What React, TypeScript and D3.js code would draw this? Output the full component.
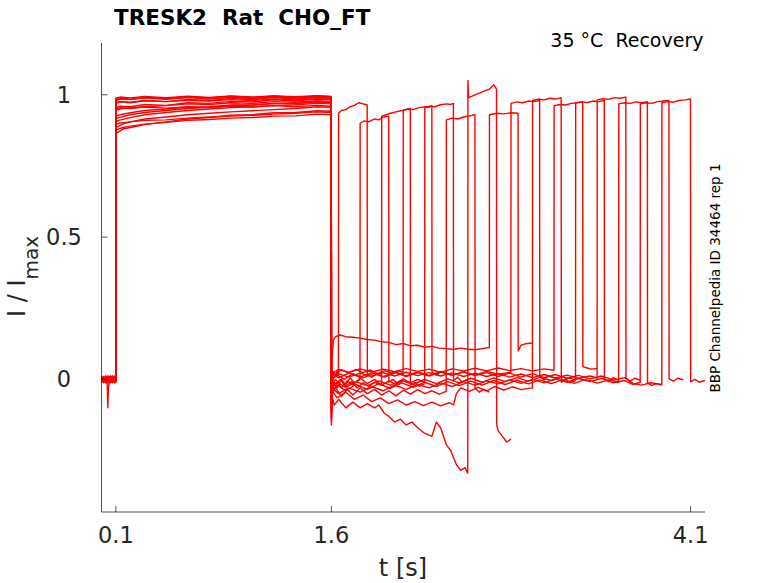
import * as d3 from 'd3';

type Pt = [number, number];

// sweeps of the recovery protocol: pulse 1 (0.1–1.6 s), gap, pulse 2, short tail
const sweep01: Pt[] = [
  [0, 0.006], [0.015, -0.009], [0.03, 0.011], [0.045, -0.006], [0.06, 0.009], [0.075, -0.011], [0.09, 0.004], [0.099, -0.004],
  [0.1, 0.985], [0.13, 0.99], [0.2, 0.983], [0.3, 0.991], [0.45, 0.985], [0.6, 0.992], [0.75, 0.986], [0.9, 0.993], [1.05, 0.987], [1.2, 0.994], [1.35, 0.988], [1.5, 0.993], [1.599, 0.99],
  [1.6, -0.05], [1.61, 0.025], [1.625, 0.012], [1.64, 0.028], [1.649, 0.015],
  [1.65, 0.935], [1.67, 0.945], [1.7, 0.948], [1.73, 0.958], [1.76, 0.963], [1.79, 0.972], [1.82, 0.968], [1.849, 0.964],
  [1.85, 0.018], [1.88, 0.008], [1.91, 0.02], [1.95, 0.012],
];
const sweep02: Pt[] = [
  [0, -0.004], [0.015, 0.008], [0.03, -0.012], [0.045, 0.005], [0.06, -0.009], [0.075, 0.01], [0.09, -0.005], [0.099, 0.003],
  [0.1, 0.97], [0.13, 0.975], [0.2, 0.972], [0.3, 0.98], [0.45, 0.976], [0.6, 0.984], [0.75, 0.98], [0.9, 0.987], [1.05, 0.983], [1.2, 0.99], [1.35, 0.985], [1.5, 0.991], [1.599, 0.988],
  [1.6, -0.15], [1.605, -0.04], [1.62, -0.01], [1.64, -0.03], [1.67, 0.0], [1.7, -0.02], [1.73, 0.005], [1.76, -0.012], [1.799, 0.0],
  [1.8, 0.9], [1.83, 0.908], [1.86, 0.905], [1.9, 0.915], [1.93, 0.912], [1.96, 0.922], [1.999, 0.925],
  [2.0, -0.01], [2.03, 0.0], [2.06, -0.015], [2.1, -0.005],
];
const sweep03: Pt[] = [
  [0, 0.01], [0.015, -0.005], [0.03, 0.008], [0.04, -0.02], [0.044, -0.1], [0.048, -0.03], [0.06, 0.006], [0.075, -0.01], [0.09, 0.007], [0.099, -0.003],
  [0.1, 0.955], [0.13, 0.96], [0.2, 0.958], [0.3, 0.966], [0.45, 0.963], [0.6, 0.972], [0.75, 0.97], [0.9, 0.977], [1.05, 0.975], [1.2, 0.982], [1.35, 0.979], [1.5, 0.985], [1.599, 0.983],
  [1.6, -0.08], [1.605, 0.01], [1.63, -0.02], [1.66, 0.0], [1.7, -0.025], [1.74, -0.008], [1.78, -0.03], [1.82, -0.012], [1.86, -0.025], [1.9, -0.01], [1.949, -0.02],
  [1.95, 0.925], [1.98, 0.93], [2.01, 0.935], [2.05, 0.94], [2.09, 0.945], [2.12, 0.948], [2.149, 0.952],
  [2.15, -0.02], [2.18, -0.01], [2.21, -0.025], [2.25, -0.015],
];
const sweep04: Pt[] = [
  [0, -0.006], [0.015, 0.009], [0.03, -0.01], [0.045, 0.006], [0.06, -0.008], [0.075, 0.011], [0.09, -0.004], [0.099, 0.005],
  [0.1, 0.98], [0.13, 0.986], [0.2, 0.984], [0.3, 0.99], [0.45, 0.986], [0.6, 0.993], [0.75, 0.989], [0.9, 0.995], [1.05, 0.99], [1.2, 0.996], [1.35, 0.991], [1.5, 0.996], [1.599, 0.993],
  [1.6, -0.06], [1.605, 0.03], [1.63, 0.02], [1.67, 0.034], [1.72, 0.022], [1.77, 0.035], [1.82, 0.024], [1.87, 0.033], [1.92, 0.02], [1.97, 0.031], [2.02, 0.022], [2.06, 0.03], [2.099, 0.025],
  [2.1, 0.945], [2.13, 0.95], [2.17, 0.948], [2.21, 0.955], [2.25, 0.958], [2.28, 0.956], [2.299, 0.962],
  [2.3, 0.025], [2.33, 0.015], [2.36, 0.028], [2.4, 0.02],
];
const sweep05: Pt[] = [
  [0, 0.003], [0.015, -0.01], [0.03, 0.007], [0.045, -0.004], [0.06, 0.012], [0.075, -0.007], [0.09, 0.005], [0.099, -0.009],
  [0.1, 0.945], [0.13, 0.95], [0.2, 0.955], [0.3, 0.958], [0.45, 0.962], [0.6, 0.968], [0.75, 0.966], [0.9, 0.972], [1.05, 0.97], [1.2, 0.976], [1.35, 0.974], [1.5, 0.979], [1.599, 0.977],
  [1.6, -0.1], [1.605, -0.02], [1.63, 0.0], [1.67, -0.03], [1.71, -0.005], [1.75, -0.02], [1.8, 0.005], [1.85, -0.015], [1.9, 0.0], [1.95, -0.02], [2.0, -0.005], [2.05, -0.018], [2.1, 0.002], [2.15, -0.012], [2.2, 0.0], [2.249, -0.01],
  [2.25, 0.955], [2.28, 0.96], [2.32, 0.958], [2.36, 0.965], [2.4, 0.968], [2.43, 0.966], [2.449, 0.97],
  [2.45, -0.005], [2.48, 0.008], [2.51, -0.01], [2.55, 0.0],
];
const sweep06: Pt[] = [
  [0, -0.008], [0.015, 0.006], [0.03, -0.003], [0.045, 0.01], [0.06, -0.011], [0.075, 0.004], [0.09, -0.007], [0.099, 0.008],
  [0.1, 0.925], [0.13, 0.93], [0.2, 0.937], [0.3, 0.945], [0.45, 0.95], [0.6, 0.957], [0.75, 0.958], [0.9, 0.964], [1.05, 0.965], [1.2, 0.97], [1.35, 0.969], [1.5, 0.975], [1.599, 0.973],
  [1.6, -0.14], [1.605, -0.05], [1.63, -0.03], [1.67, -0.06], [1.71, -0.035], [1.75, -0.055], [1.8, -0.03], [1.85, -0.05], [1.9, -0.035], [1.95, -0.055], [2.0, -0.04], [2.05, -0.058], [2.1, -0.038], [2.15, -0.052], [2.2, -0.036], [2.25, -0.05], [2.3, -0.04], [2.35, -0.052], [2.399, -0.042],
  [2.4, 0.912], [2.44, 0.918], [2.48, 0.915], [2.52, 0.922], [2.56, 0.926], [2.599, 0.93],
  [2.6, -0.03], [2.63, -0.045], [2.66, -0.035], [2.7, -0.045],
];
const sweep07: Pt[] = [
  [0, 0.002], [0.015, -0.008], [0.03, 0.01], [0.045, -0.012], [0.06, 0.005], [0.075, -0.006], [0.09, 0.009], [0.099, -0.011],
  [0.1, 0.905], [0.12, 0.91], [0.2, 0.92], [0.3, 0.93], [0.45, 0.938], [0.6, 0.945], [0.75, 0.95], [0.9, 0.955], [1.05, 0.958], [1.2, 0.962], [1.35, 0.965], [1.5, 0.97], [1.599, 0.968],
  [1.6, -0.16], [1.605, -0.06], [1.62, -0.09], [1.65, -0.07], [1.7, -0.1], [1.75, -0.08], [1.8, -0.1], [1.85, -0.085], [1.9, -0.1], [1.93, -0.09], [1.97, -0.12], [2.0, -0.13], [2.04, -0.15], [2.08, -0.14], [2.12, -0.16], [2.16, -0.15], [2.2, -0.17], [2.25, -0.19], [2.3, -0.2], [2.33, -0.15], [2.36, -0.17], [2.4, -0.23], [2.43, -0.25], [2.47, -0.3], [2.5, -0.32], [2.53, -0.31], [2.549, -0.33],
  [2.55, 1.05], [2.555, 0.99], [2.6, 1.0], [2.65, 1.01], [2.7, 1.02], [2.73, 1.035], [2.749, 1.02],
  [2.75, -0.16], [2.76, -0.18], [2.79, -0.2], [2.82, -0.22], [2.85, -0.21],
];
const sweep08: Pt[] = [
  [0, -0.011], [0.015, 0.003], [0.03, -0.007], [0.045, 0.009], [0.06, -0.002], [0.075, 0.012], [0.09, -0.008], [0.099, 0.001],
  [0.1, 0.885], [0.12, 0.89], [0.15, 0.898], [0.2, 0.905], [0.3, 0.915], [0.45, 0.922], [0.6, 0.93], [0.75, 0.935], [0.9, 0.94], [1.05, 0.944], [1.2, 0.948], [1.35, 0.952], [1.5, 0.958], [1.599, 0.956],
  [1.6, -0.02], [1.605, 0.08], [1.615, 0.14], [1.63, 0.15], [1.66, 0.156], [1.7, 0.15], [1.75, 0.148], [1.8, 0.145], [1.85, 0.14], [1.9, 0.138], [1.95, 0.132], [2.0, 0.13], [2.05, 0.122], [2.1, 0.126], [2.15, 0.118], [2.2, 0.12], [2.25, 0.113], [2.3, 0.116], [2.35, 0.11], [2.4, 0.108], [2.45, 0.105], [2.5, 0.11], [2.55, 0.106], [2.6, 0.104], [2.65, 0.108], [2.699, 0.112],
  [2.7, 0.93], [2.75, 0.935], [2.8, 0.933], [2.85, 0.937], [2.899, 0.935],
  [2.9, 0.1], [2.92, 0.12], [2.95, 0.125], [3.0, 0.128],
];
const sweep09: Pt[] = [
  [0, 0.009], [0.015, -0.006], [0.03, 0.012], [0.045, -0.009], [0.06, 0.003], [0.075, -0.012], [0.09, 0.008], [0.099, -0.002],
  [0.1, 0.865], [0.12, 0.87], [0.15, 0.88], [0.2, 0.885], [0.3, 0.895], [0.45, 0.905], [0.6, 0.915], [0.75, 0.92], [0.9, 0.928], [1.05, 0.93], [1.2, 0.937], [1.35, 0.938], [1.5, 0.944], [1.599, 0.942],
  [1.6, -0.09], [1.605, 0.0], [1.64, 0.015], [1.69, 0.0], [1.75, 0.02], [1.82, 0.005], [1.9, 0.022], [1.97, 0.008], [2.05, 0.025], [2.12, 0.01], [2.2, 0.024], [2.28, 0.012], [2.36, 0.026], [2.44, 0.014], [2.52, 0.027], [2.6, 0.015], [2.68, 0.028], [2.76, 0.018], [2.849, 0.025],
  [2.85, 0.97], [2.89, 0.975], [2.93, 0.972], [2.97, 0.978], [3.01, 0.976], [3.049, 0.98],
  [3.05, 0.01], [3.08, -0.002], [3.11, 0.012], [3.15, 0.005],
];
const sweep10: Pt[] = [
  [0, -0.002], [0.015, 0.011], [0.03, -0.008], [0.045, 0.004], [0.06, -0.012], [0.075, 0.007], [0.09, -0.003], [0.099, 0.01],
  [0.1, 0.895], [0.12, 0.9], [0.2, 0.905], [0.3, 0.91], [0.45, 0.912], [0.6, 0.918], [0.75, 0.922], [0.9, 0.925], [1.05, 0.928], [1.2, 0.932], [1.35, 0.935], [1.5, 0.94], [1.599, 0.938],
  [1.6, -0.12], [1.605, -0.04], [1.64, -0.065], [1.7, -0.045], [1.76, -0.07], [1.82, -0.055], [1.88, -0.078], [1.94, -0.065], [2.0, -0.085], [2.06, -0.072], [2.12, -0.09], [2.18, -0.078], [2.24, -0.092], [2.3, -0.08], [2.36, -0.093], [2.42, -0.082], [2.45, -0.09], [2.47, -0.05], [2.5, -0.03], [2.56, -0.042], [2.62, -0.028], [2.68, -0.04], [2.74, -0.025], [2.8, -0.038], [2.86, -0.026], [2.92, -0.036], [2.999, -0.03],
  [3.0, 0.98], [3.04, 0.985], [3.08, 0.982], [3.12, 0.988], [3.16, 0.985], [3.199, 0.99],
  [3.2, -0.01], [3.23, 0.002], [3.26, -0.012], [3.3, -0.004],
];
const sweep11: Pt[] = [
  [0, 0.007], [0.015, -0.011], [0.03, 0.004], [0.045, -0.007], [0.06, 0.01], [0.075, -0.004], [0.09, 0.012], [0.099, -0.006],
  [0.1, 0.95], [0.13, 0.955], [0.2, 0.952], [0.3, 0.957], [0.45, 0.953], [0.6, 0.958], [0.75, 0.955], [0.9, 0.96], [1.05, 0.957], [1.2, 0.962], [1.35, 0.958], [1.5, 0.963], [1.599, 0.96],
  [1.6, -0.04], [1.605, 0.02], [1.65, 0.035], [1.72, 0.025], [1.8, 0.037], [1.88, 0.026], [1.96, 0.036], [2.04, 0.027], [2.12, 0.038], [2.2, 0.028], [2.28, 0.036], [2.36, 0.025], [2.44, 0.037], [2.52, 0.03], [2.6, 0.039], [2.68, 0.03], [2.76, 0.04], [2.84, 0.031], [2.92, 0.038], [3.0, 0.03], [3.08, 0.037], [3.149, 0.032],
  [3.15, 0.962], [3.19, 0.966], [3.23, 0.964], [3.27, 0.97], [3.31, 0.972], [3.349, 0.975],
  [3.35, 0.045], [3.38, 0.04], [3.41, 0.036], [3.45, 0.038],
];
const sweep12: Pt[] = [
  [0, -0.01], [0.015, 0.004], [0.03, -0.006], [0.045, 0.011], [0.06, -0.004], [0.075, 0.009], [0.09, -0.011], [0.099, 0.002],
  [0.1, 0.915], [0.12, 0.92], [0.2, 0.93], [0.3, 0.938], [0.45, 0.945], [0.6, 0.952], [0.75, 0.956], [0.9, 0.962], [1.05, 0.964], [1.2, 0.969], [1.35, 0.97], [1.5, 0.975], [1.599, 0.973],
  [1.6, -0.11], [1.605, -0.03], [1.64, -0.01], [1.7, -0.028], [1.77, -0.008], [1.85, -0.022], [1.93, -0.005], [2.01, -0.02], [2.09, -0.003], [2.17, -0.018], [2.25, 0.0], [2.33, -0.015], [2.41, 0.002], [2.49, -0.012], [2.57, 0.004], [2.65, -0.01], [2.73, 0.005], [2.81, -0.008], [2.89, 0.006], [2.97, -0.006], [3.05, 0.007], [3.13, -0.004], [3.21, 0.008], [3.299, 0.0],
  [3.3, 0.972], [3.34, 0.975], [3.38, 0.973], [3.42, 0.978], [3.46, 0.976], [3.499, 0.98],
  [3.5, 0.002], [3.53, -0.008], [3.56, 0.006], [3.6, -0.004],
];
const sweep13: Pt[] = [
  [0, 0.012], [0.015, -0.002], [0.03, 0.009], [0.045, -0.011], [0.06, 0.006], [0.075, -0.005], [0.09, 0.01], [0.099, -0.008],
  [0.1, 0.982], [0.13, 0.986], [0.2, 0.984], [0.3, 0.989], [0.45, 0.985], [0.6, 0.99], [0.75, 0.986], [0.9, 0.991], [1.05, 0.987], [1.2, 0.992], [1.35, 0.988], [1.5, 0.992], [1.599, 0.99],
  [1.6, -0.07], [1.605, 0.01], [1.65, 0.02], [1.72, 0.008], [1.8, 0.022], [1.88, 0.01], [1.96, 0.024], [2.04, 0.012], [2.12, 0.025], [2.2, 0.013], [2.28, 0.024], [2.36, 0.012], [2.44, 0.023], [2.52, 0.01], [2.6, 0.022], [2.68, 0.01], [2.76, 0.02], [2.84, 0.008], [2.92, 0.019], [3.0, 0.006], [3.08, 0.017], [3.16, 0.005], [3.24, 0.015], [3.32, 0.004], [3.4, 0.012], [3.449, 0.005],
  [3.45, 0.982], [3.49, 0.986], [3.53, 0.984], [3.57, 0.99], [3.61, 0.988], [3.649, 0.992],
  [3.65, 0.005], [3.68, -0.006], [3.71, 0.004], [3.75, -0.003],
];
const sweep14: Pt[] = [
  [0, -0.005], [0.015, 0.01], [0.03, -0.012], [0.045, 0.003], [0.06, -0.007], [0.075, 0.012], [0.09, -0.009], [0.099, 0.004],
  [0.1, 0.972], [0.13, 0.976], [0.2, 0.974], [0.3, 0.979], [0.45, 0.976], [0.6, 0.981], [0.75, 0.978], [0.9, 0.983], [1.05, 0.98], [1.2, 0.985], [1.35, 0.982], [1.5, 0.986], [1.599, 0.984],
  [1.6, -0.13], [1.605, -0.04], [1.64, -0.02], [1.7, -0.04], [1.77, -0.018], [1.85, -0.035], [1.93, -0.015], [2.01, -0.032], [2.09, -0.012], [2.17, -0.028], [2.25, -0.01], [2.33, -0.025], [2.41, -0.008], [2.49, -0.022], [2.57, -0.006], [2.65, -0.02], [2.73, -0.004], [2.81, -0.018], [2.89, -0.003], [2.97, -0.016], [3.05, -0.002], [3.13, -0.015], [3.21, -0.001], [3.29, -0.014], [3.37, 0.0], [3.45, -0.013], [3.53, -0.002], [3.599, -0.01],
  [3.6, 0.968], [3.64, 0.972], [3.68, 0.97], [3.72, 0.975], [3.76, 0.972], [3.799, 0.976],
  [3.8, -0.012], [3.83, -0.022], [3.86, -0.015], [3.9, -0.02],
];
const sweep15: Pt[] = [
  [0, 0.004], [0.015, -0.012], [0.03, 0.006], [0.045, -0.003], [0.06, 0.011], [0.075, -0.01], [0.09, 0.003], [0.099, -0.006],
  [0.1, 0.875], [0.12, 0.88], [0.15, 0.885], [0.2, 0.89], [0.3, 0.897], [0.45, 0.903], [0.6, 0.91], [0.75, 0.913], [0.9, 0.918], [1.05, 0.92], [1.2, 0.925], [1.35, 0.926], [1.5, 0.932], [1.599, 0.93],
  [1.6, -0.1], [1.605, -0.03], [1.65, -0.05], [1.72, -0.03], [1.8, -0.045], [1.88, -0.025], [1.96, -0.04], [2.04, -0.02], [2.12, -0.035], [2.2, -0.018], [2.28, -0.03], [2.36, -0.012], [2.44, -0.025], [2.52, -0.008], [2.6, -0.02], [2.68, -0.005], [2.76, -0.016], [2.84, -0.002], [2.92, -0.014], [3.0, 0.0], [3.08, -0.012], [3.16, 0.002], [3.24, -0.01], [3.32, 0.003], [3.4, -0.008], [3.48, 0.004], [3.56, -0.012], [3.64, -0.004], [3.7, -0.018], [3.749, -0.01],
  [3.75, 0.968], [3.79, 0.972], [3.83, 0.97], [3.87, 0.976], [3.91, 0.978], [3.949, 0.98],
  [3.95, 0.002], [3.98, -0.006], [4.01, 0.004], [4.05, -0.002],
];
const sweep16: Pt[] = [
  [0, -0.009], [0.015, 0.005], [0.03, -0.004], [0.045, 0.012], [0.06, -0.01], [0.075, 0.002], [0.09, -0.012], [0.099, 0.006],
  [0.1, 0.988], [0.13, 0.992], [0.2, 0.989], [0.3, 0.994], [0.45, 0.99], [0.6, 0.995], [0.75, 0.991], [0.9, 0.996], [1.05, 0.992], [1.2, 0.996], [1.35, 0.993], [1.5, 0.997], [1.599, 0.994],
  [1.6, -0.05], [1.605, 0.02], [1.65, 0.005], [1.72, 0.022], [1.8, 0.008], [1.88, 0.024], [1.96, 0.01], [2.04, 0.025], [2.12, 0.012], [2.2, 0.026], [2.28, 0.014], [2.36, 0.027], [2.44, 0.015], [2.52, 0.026], [2.6, 0.013], [2.68, 0.024], [2.76, 0.01], [2.84, 0.022], [2.92, 0.008], [3.0, 0.02], [3.08, 0.006], [3.16, 0.017], [3.24, 0.004], [3.32, 0.014], [3.4, 0.002], [3.48, 0.012], [3.56, -0.002], [3.64, 0.006], [3.7, -0.015], [3.76, -0.02], [3.82, -0.012], [3.899, -0.018],
  [3.9, 0.972], [3.94, 0.976], [3.98, 0.974], [4.02, 0.98], [4.06, 0.982], [4.099, 0.985],
  [4.1, -0.008], [4.13, 0.0], [4.16, -0.01], [4.2, -0.004],
];

const sweeps = [sweep01, sweep02, sweep03, sweep04, sweep05, sweep06, sweep07, sweep08,
  sweep09, sweep10, sweep11, sweep12, sweep13, sweep14, sweep15, sweep16];

const xTicks = [0.1, 1.6, 4.1];
const xTickLabels = ['0.1', '1.6', '4.1'];
const yTicks = [0, 0.5, 1];
const yTickLabels = ['0', '0.5', '1'];

const font = 'DejaVu Sans, Verdana, sans-serif';
const axisColor = '#262626';

export default function App() {
  const width = 778;
  const height = 583;
  const x = d3.scaleLinear().domain([0, 4.2]).range([101.5, 705]);
  const y = d3.scaleLinear().domain([-0.466, 1.182]).range([512, 43]);
  const line = d3.line<Pt>().x((d) => x(d[0])).y((d) => y(d[1]));

  const left = x.range()[0];
  const right = x.range()[1];
  const bottom = y.range()[0];
  const top = y.range()[1];

  return (
    <svg width={width} height={height} viewBox={`0 0 ${width} ${height}`}
      style={{ position: 'absolute', left: 0, top: 0, background: '#fff' }}>
      <g>
        {sweeps.map((s, i) => (
          <path key={i} d={line(s) ?? ''} fill="none" stroke="#ff0000" strokeWidth={1.4} strokeLinejoin="round" />
        ))}
      </g>

      {/* axes */}
      <line x1={left} y1={top} x2={left} y2={bottom} stroke={axisColor} strokeWidth={0.8} />
      <line x1={left} y1={bottom} x2={right} y2={bottom} stroke={axisColor} strokeWidth={0.8} />
      {xTicks.map((t, i) => (
        <g key={`x${i}`}>
          <line x1={x(t)} y1={bottom} x2={x(t)} y2={bottom - 6} stroke={axisColor} strokeWidth={0.8} />
          <text x={x(t)} y={bottom + 31} textAnchor="middle" fontFamily={font} fontSize={22.5} fill={axisColor}>{xTickLabels[i]}</text>
        </g>
      ))}
      {yTicks.map((t, i) => (
        <g key={`y${i}`}>
          <line x1={left} y1={y(t)} x2={left + 6} y2={y(t)} stroke={axisColor} strokeWidth={0.8} />
          <text x={64} y={y(t) + 8} textAnchor="middle" fontFamily={font} fontSize={22.5} fill={axisColor}>{yTickLabels[i]}</text>
        </g>
      ))}

      {/* labels */}
      <text x={403} y={576} textAnchor="middle" fontFamily={font} fontSize={24} fill={axisColor}>t [s]</text>
      <text transform="translate(25,317) rotate(-90)" fontFamily={font} fontSize={24} fill={axisColor} style={{ whiteSpace: 'pre' }}>
        I / I<tspan fontSize={20} dy={13}>max</tspan>
      </text>
      <text x={114} y={25} fontFamily={font} fontSize={21.5} fontWeight="bold" fill="#000" style={{ whiteSpace: 'pre' }}>
        TRESK2  Rat  CHO_FT
      </text>
      <text x={703.5} y={46.5} textAnchor="end" fontFamily={font} fontSize={19} fill="#000" style={{ whiteSpace: 'pre' }}>
        35 °C  Recovery
      </text>
      <text transform="translate(720,278) rotate(-90)" textAnchor="middle" fontFamily={font} fontSize={13.5} fill="#000">
        BBP Channelpedia ID 34464 rep 1
      </text>
    </svg>
  );
}
